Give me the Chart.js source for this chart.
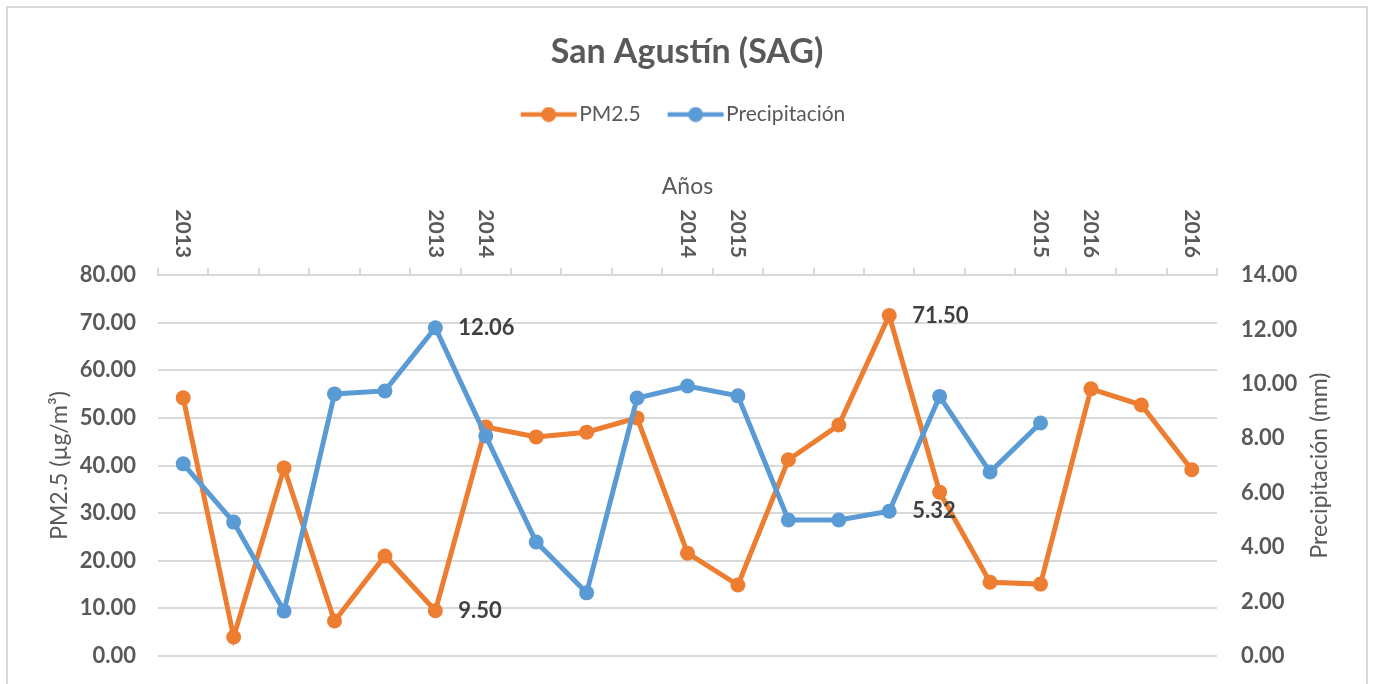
<!DOCTYPE html>
<html>
<head>
<meta charset="utf-8">
<script src="https://cdn.jsdelivr.net/npm/chart.js@4.4.0/dist/chart.umd.min.js"></script>
<style>
    html, body { margin: 0; padding: 0; background: #fff; overflow: hidden; }
    #wrap { position: relative; width: 1374px; height: 684px; }
    #frame { position: absolute; left: 6px; top: 6px; width: 1362px; height: 700px; border: 2px solid #d9d9d9; box-sizing: border-box; pointer-events: none; }
</style>
</head>
<body>
<div id="wrap">
    <canvas id="sagChart" width="1374" height="684"></canvas>
    <div id="frame"></div>
</div>
<script>
// Etiquetas del eje superior (solo algunas categorías llevan año)
const yearLabels = ['2013', '', '', '', '', '2013', '2014', '', '', '', '2014', '2015', '', '', '', '', '', '2015', '2016', '', '2016'];

// PM2.5 (µg/m³)
const pm25 = [54.2, 4.0, 39.5, 7.35, 21.0, 9.50, 48.1, 46.0, 47.0, 50.0, 21.6, 14.9, 41.2, 48.5, 71.50, 34.4, 15.5, 15.1, 56.1, 52.7, 39.1];

// Precipitación (mm)
const precip = [7.06, 4.92, 1.65, 9.63, 9.74, 12.06, 8.08, 4.19, 2.32, 9.48, 9.92, 9.56, 5.0, 5.0, 5.32, 9.54, 6.76, 8.56, null, null, null];

// Puntos con etiqueta de valor
const pm25Marked = [5, 14];
const precipMarked = [5, 14];

const FONT = 'Lato';
const TEXT = '#595959';
const GRID = '#d9d9d9';
const ORANGE = '#ED7D31';
const BLUE = '#5B9BD5';

function legendIcon(color) {
    const c = document.createElement('canvas');
    c.width = 58;
    c.height = 16;
    const g = c.getContext('2d');
    g.strokeStyle = color;
    g.lineWidth = 4.5;
    g.beginPath();
    g.moveTo(1, 8);
    g.lineTo(57, 8);
    g.stroke();
    g.fillStyle = color;
    g.beginPath();
    g.arc(29, 8, 7.5, 0, Math.PI * 2);
    g.fill();
    return c;
}
const legendIcons = [legendIcon(ORANGE), legendIcon(BLUE)];

// sin relleno extra por las etiquetas del eje Y
function fixY(width) {
    return s => {
        s.width = width;
        s.paddingTop = 0;
        s.paddingBottom = 0;
    };
}

const extras = {
    id: 'extras',
    afterDatasetsDraw(chart) {
        const ctx = chart.ctx;
        ctx.save();
        ctx.font = 'bold 22px ' + FONT;
        ctx.fillStyle = '#404040';
        ctx.textAlign = 'left';
        ctx.textBaseline = 'middle';
        [[0, pm25Marked], [1, precipMarked]].forEach(([di, idx]) => {
            const meta = chart.getDatasetMeta(di);
            idx.forEach(i => {
                const p = meta.data[i];
                ctx.fillText(chart.data.datasets[di].data[i].toFixed(2), p.x + 23, p.y);
            });
        });
        ctx.restore();
    },
    afterDraw(chart) {
        const ctx = chart.ctx;
        const xs = chart.scales.x;
        const y1 = chart.scales.y1;
        const area = chart.chartArea;
        ctx.save();
        // años girados en sentido horario
        ctx.font = 'bold 21px ' + FONT;
        ctx.fillStyle = TEXT;
        xs.ticks.forEach((t, i) => {
            const lbl = yearLabels[i];
            if (!lbl) return;
            ctx.save();
            ctx.translate(xs.getPixelForTick(i), xs.bottom - 17);
            ctx.rotate(Math.PI / 2);
            ctx.textAlign = 'right';
            ctx.textBaseline = 'middle';
            ctx.fillText(lbl, 0, 0);
            ctx.restore();
        });
        // título eje X
        ctx.font = '23px ' + FONT;
        ctx.textAlign = 'center';
        ctx.textBaseline = 'middle';
        ctx.fillText('Años', (area.left + area.right) / 2, xs.bottom - 88);
        // título eje derecho
        ctx.translate(y1.left + 103, (area.top + area.bottom) / 2);
        ctx.rotate(-Math.PI / 2);
        ctx.fillText('Precipitación (mm)', 0, 0);
        ctx.restore();
    }
};

new Chart(document.getElementById('sagChart').getContext('2d'), {
    type: 'line',
    data: {
        labels: yearLabels,
        datasets: [{
            label: 'PM2.5',
            data: pm25,
            yAxisID: 'y',
            borderColor: ORANGE,
            backgroundColor: ORANGE,
            borderWidth: 5,
            pointRadius: 7.5,
            pointHoverRadius: 7.5,
            pointBorderWidth: 0,
            tension: 0,
            order: 1
        }, {
            label: 'Precipitación',
            data: precip,
            yAxisID: 'y1',
            borderColor: BLUE,
            backgroundColor: BLUE,
            borderWidth: 5,
            pointRadius: 7.5,
            pointHoverRadius: 7.5,
            pointBorderWidth: 0,
            tension: 0,
            spanGaps: false,
            order: 0
        }]
    },
    options: {
        responsive: false,
        animation: false,
        events: [],
        layout: { padding: { top: 0, left: 0, right: 0, bottom: 28 } },
        plugins: {
            title: {
                display: true,
                text: 'San Agustín (SAG)',
                color: TEXT,
                font: { family: FONT, size: 34, weight: 'bold', lineHeight: 1 },
                padding: { top: 35, bottom: 0 }
            },
            legend: {
                display: true,
                position: 'top',
                labels: {
                    color: TEXT,
                    font: { family: FONT, size: 21 },
                    usePointStyle: true,
                    pointStyleWidth: 40,
                    padding: 35,
                    sort: (a, b) => a.datasetIndex - b.datasetIndex,
                    generateLabels(chart) {
                        const items = Chart.defaults.plugins.legend.labels.generateLabels(chart);
                        items.forEach(it => { it.pointStyle = legendIcons[it.datasetIndex]; });
                        return items;
                    }
                }
            },
            tooltip: { enabled: false }
        },
        scales: {
            x: {
                type: 'category',
                position: 'top',
                offset: true,
                grid: { offset: true, drawOnChartArea: false, drawTicks: true, tickLength: 7, color: GRID, lineWidth: 2 },
                border: { display: true, color: GRID, width: 2 },
                ticks: { display: false, autoSkip: false },
                afterFit(s) {
                    s.height = 275 - s.chart.titleBlock.height - s.chart.legend.height;
                }
            },
            y: {
                position: 'left',
                min: 0,
                max: 80,
                ticks: {
                    stepSize: 10,
                    padding: 22,
                    color: TEXT,
                    font: { family: FONT, size: 22, weight: 'bold' },
                    callback: v => v.toFixed(2)
                },
                grid: { color: GRID, lineWidth: 2, drawTicks: false },
                border: { display: false },
                title: {
                    display: true,
                    text: 'PM2.5 (µg/m³)',
                    color: TEXT,
                    font: { family: FONT, size: 23 },
                    padding: { top: 46, bottom: 0 }
                },
                afterFit: fixY(158)
            },
            y1: {
                position: 'right',
                min: 0,
                max: 14,
                ticks: {
                    stepSize: 2,
                    padding: 24,
                    color: TEXT,
                    font: { family: FONT, size: 22, weight: 'bold' },
                    callback: v => v.toFixed(2)
                },
                grid: { drawOnChartArea: false, drawTicks: false },
                border: { display: false },
                afterFit: fixY(157)
            }
        }
    },
    plugins: [extras]
});
</script>
</body>
</html>
